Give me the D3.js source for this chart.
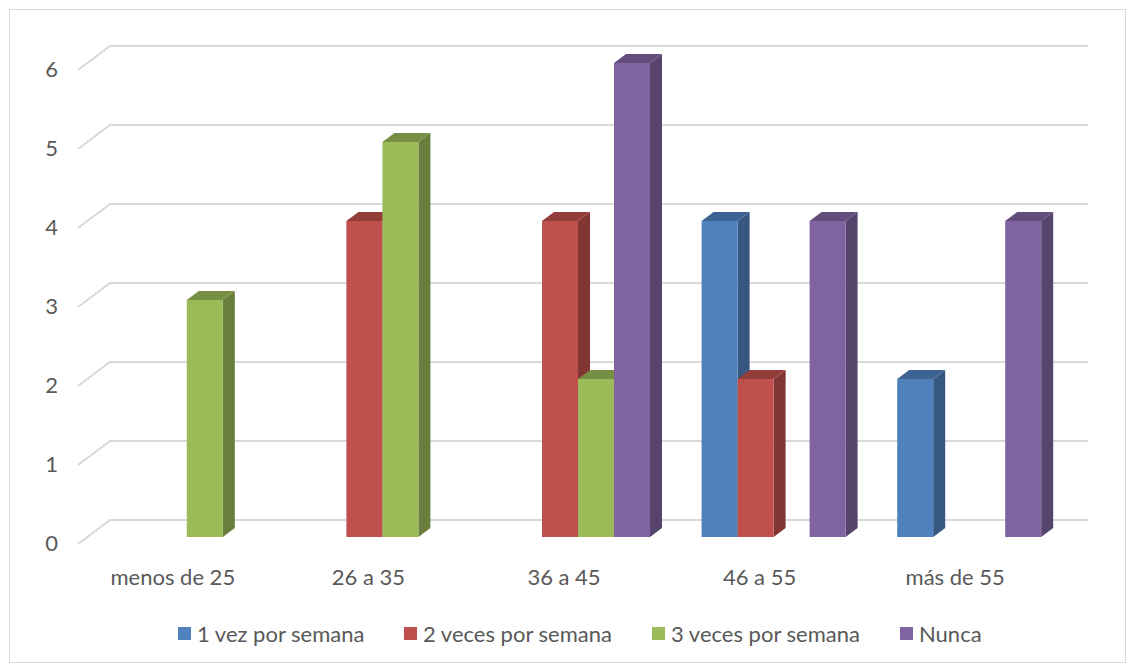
<!DOCTYPE html>
<html>
<head>
<meta charset="utf-8">
<script src="https://cdn.jsdelivr.net/npm/d3@7"></script>
<style>
  body { margin: 0; background: #fff; }
  text { font-family: Lato, "Open Sans", sans-serif; fill: #595959; }
</style>
</head>
<body>
<div id="chart"></div>
<script>
var categories = ["menos de 25", "26 a 35", "36 a 45", "46 a 55", "más de 55"];
var series = ["1 vez por semana", "2 veces por semana", "3 veces por semana", "Nunca"];
var colors = ["#4F81BD", "#C0504D", "#9BBB59", "#8064A2"];
var values = [
  [0, 0, 0, 4, 2],   // 1 vez por semana
  [0, 4, 4, 2, 0],   // 2 veces por semana
  [3, 5, 2, 0, 0],   // 3 veces por semana
  [0, 0, 6, 4, 4]    // Nunca
];
var yTicks = [0, 1, 2, 3, 4, 5, 6];

var w = 1134, h = 664;
var left = 78, right = 1056, y0 = 543, yTop = 69;
var wallDx = 32, wallDy = -23;   // depth of back wall
var barDx = 11, barDy = -6;      // bars sit a little behind the front
var sideDx = 12, sideDy = -9;    // bar thickness

var svg = d3.select("#chart").append("svg")
  .attr("width", w).attr("height", h);

svg.append("rect")
  .attr("x", 9.5).attr("y", 9.5)
  .attr("width", 1116).attr("height", 653)
  .attr("fill", "#fff").attr("stroke", "#D9D9D9");

var x0 = d3.scaleBand().domain(categories).range([left, right]);
var x1 = d3.scaleBand().domain(series).range([-72, 72]);
var y = d3.scaleLinear().domain([0, 6]).range([y0, yTop]);

// gridlines: side wall diagonal + back wall
var grid = svg.append("g").attr("class", "grid");
yTicks.forEach(function(t){
  var yy = y(t);
  grid.append("path")
    .attr("d", "M" + left + "," + (yy + 1) + "L" + (left + wallDx) + "," + (yy + wallDy) +
      "H" + (right + wallDx))
    .attr("fill", "none")
    .attr("stroke", "#D9D9D9")
    .attr("stroke-width", 2);
});

// y labels
svg.append("g").selectAll("text")
  .data(yTicks).enter().append("text")
  .attr("x", 58).attr("y", function(d){ return y(d); })
  .attr("dy", "0.35em")
  .attr("text-anchor", "end")
  .style("font-size", "22px")
  .text(function(d){ return d; });

// bars
var bars = [];
categories.forEach(function(c, ci){
  series.forEach(function(s, si){
    if (values[si][ci] > 0) bars.push({c: c, s: s, si: si, v: values[si][ci]});
  });
});

var g = svg.append("g").attr("class", "bars");
bars.forEach(function(d){
  var bx = x0(d.c) + x0.bandwidth() / 2 + x1(d.s) + barDx;
  var bw = x1.bandwidth();
  var yb = y(0) + barDy, yt = y(d.v) + barDy;
  var col = d3.color(colors[d.si]);
  // side
  g.append("path")
    .attr("d", "M" + (bx + bw) + "," + yb + "L" + (bx + bw + sideDx) + "," + (yb + sideDy) +
      "L" + (bx + bw + sideDx) + "," + (yt + sideDy) + "L" + (bx + bw) + "," + yt + "Z")
    .attr("fill", col.darker(1.1));
  // top
  g.append("path")
    .attr("d", "M" + bx + "," + yt + "L" + (bx + sideDx) + "," + (yt + sideDy) +
      "L" + (bx + bw + sideDx) + "," + (yt + sideDy) + "L" + (bx + bw) + "," + yt + "Z")
    .attr("fill", col.darker(0.75));
  // front
  g.append("rect")
    .attr("x", bx).attr("y", yt)
    .attr("width", bw).attr("height", yb - yt)
    .attr("fill", colors[d.si]);
});

// category labels
svg.append("g").selectAll("text")
  .data(categories).enter().append("text")
  .attr("x", function(d){ return x0(d) + x0.bandwidth() / 2 - 3; })
  .attr("y", 577)
  .attr("dy", "0.35em")
  .attr("text-anchor", "middle")
  .style("font-size", "22px")
  .text(function(d){ return d; });

// legend
var legX = [178, 404, 652, 900];
var leg = svg.append("g").attr("class", "legend");
series.forEach(function(s, i){
  leg.append("rect")
    .attr("x", legX[i]).attr("y", 627)
    .attr("width", 13).attr("height", 13)
    .attr("fill", colors[i]);
  leg.append("text")
    .attr("x", legX[i] + 19).attr("y", 634)
    .attr("dy", "0.35em")
    .style("font-size", "22px")
    .text(s);
});
</script>
</body>
</html>
